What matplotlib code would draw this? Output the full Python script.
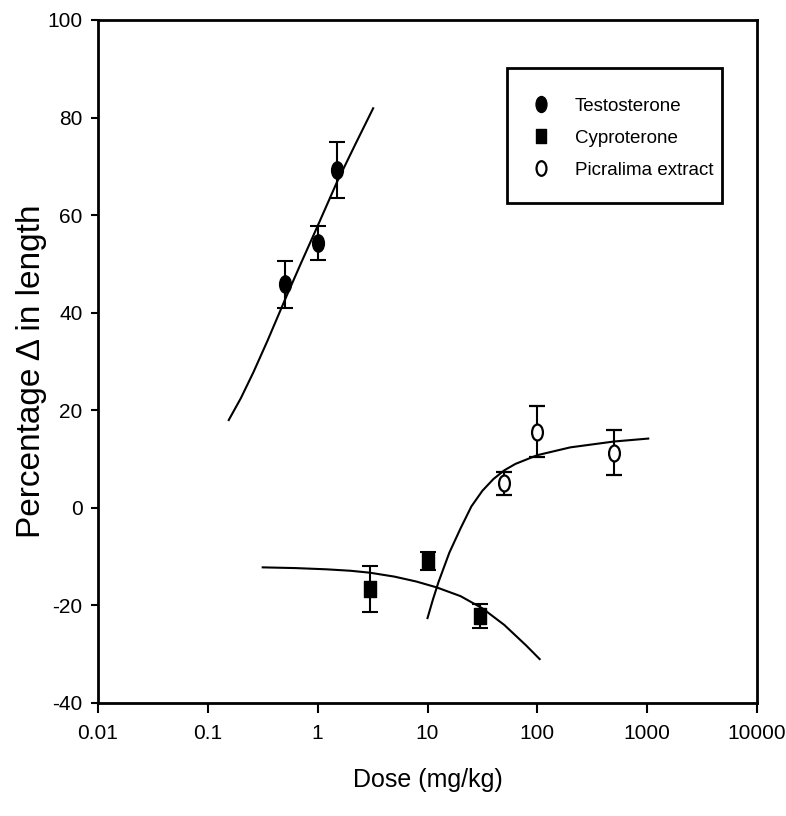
import matplotlib
matplotlib.use("Agg")
import matplotlib.pyplot as plt
from matplotlib.lines import Line2D
from matplotlib.patches import Rectangle
from matplotlib.path import Path
from matplotlib.transforms import Affine2D

plt.rcParams['font.family'] = ['Liberation Sans Narrow', 'Liberation Sans', 'DejaVu Sans']
plt.rcParams['axes.unicode_minus'] = False

# measured responses (mean +/- SEM)
testo_dose = [0.5, 1, 1.5]
testo_mean = [45.8, 54.3, 69.2]
testo_err = [4.8, 3.4, 5.7]

cypro_dose = [3, 10, 30]
cypro_mean = [-16.6, -10.9, -22.2]
cypro_err = [4.7, 1.9, 2.5]

picra_dose = [50, 100, 500]
picra_mean = [5.0, 15.6, 11.3]
picra_err = [2.4, 5.2, 4.6]

# fitted dose-response curves
testo_fit_dose = [0.155, 0.2, 0.26, 0.35, 0.5, 0.7, 1.0, 1.5, 2.2, 3.2]
testo_fit_resp = [18.0, 22.5, 27.8, 34.3, 42.5, 50.0, 57.8, 66.8, 74.5, 81.9]

cypro_fit_dose = [0.316, 0.63, 1.2, 2.0, 3.0, 5.0, 7.9, 12.1, 20, 31.6, 50, 79, 105]
cypro_fit_resp = [-12.2, -12.35, -12.6, -12.9, -13.3, -14.1, -15.1, -16.3, -18.1, -20.6, -24.0, -28.2, -31.0]

picra_fit_dose = [10, 11.2, 12.6, 15.8, 20, 25.1, 31.6, 39.8, 50.1, 63.1, 100, 200, 500, 1023]
picra_fit_resp = [-22.6, -18.8, -15.2, -9.2, -4.2, 0.3, 3.5, 5.9, 7.7, 9.0, 10.8, 12.4, 13.6, 14.2]

xticks = [0.01, 0.1, 1, 10, 100, 1000, 10000]
xtick_labels = ['0.01', '0.1', '1', '10', '100', '1000', '10000']
yticks = [-40, -20, 0, 20, 40, 60, 80, 100]
labels = ['Testosterone', 'Cyproterone', 'Picralima extract']

# slightly narrow markers
ell = Path.unit_circle().transformed(Affine2D().scale(0.68, 1.0))
box = Path.unit_rectangle().transformed(Affine2D().translate(-0.5, -0.5).scale(0.7, 1.0))

fig = plt.figure(figsize=(7.86, 8.16), dpi=100)
ax = fig.add_axes([0.1247, 0.1385, 0.8384, 0.837])

eb = dict(ecolor='black', elinewidth=1.5, capsize=5.5, capthick=1.5, linestyle='none')

ax.plot(testo_fit_dose, testo_fit_resp, color='black', lw=1.5, zorder=2)
ax.plot(cypro_fit_dose, cypro_fit_resp, color='black', lw=1.5, zorder=2)
ax.plot(picra_fit_dose, picra_fit_resp, color='black', lw=1.5, zorder=2)

ax.errorbar(testo_dose, testo_mean, yerr=testo_err, marker=ell, ms=12.5,
            mfc='black', mec='black', zorder=3, **eb)
ax.errorbar(cypro_dose, cypro_mean, yerr=cypro_err, marker=box, ms=11.5,
            mfc='black', mec='black', zorder=3, **eb)
ax.errorbar(picra_dose, picra_mean, yerr=picra_err, marker=ell, ms=11.5,
            mfc='white', mec='black', mew=1.6, zorder=3, **eb)

ax.set_xscale('log')
ax.set_xlim(0.01, 10000)
ax.set_ylim(-40, 100)
ax.set_xticks(xticks)
ax.set_xticklabels(xtick_labels)
ax.xaxis.set_minor_locator(matplotlib.ticker.NullLocator())
ax.set_yticks(yticks)

for s in ax.spines.values():
    s.set_linewidth(2)
ax.tick_params(axis='x', direction='out', length=7, width=1.5, pad=8, labelsize=15)
ax.tick_params(axis='y', direction='out', length=5, width=1.5, pad=6, labelsize=15)

ax.set_xlabel('Dose (mg/kg)', fontsize=18, labelpad=18)
ax.set_ylabel('Percentage \u0394 in length', fontsize=24)
ax.yaxis.set_label_coords(-0.078, 0.486)

# legend: markers only, inside a plain box
handles = [
    Line2D([], [], ls='none', marker=ell, ms=11.5, mfc='black', mec='black'),
    Line2D([], [], ls='none', marker=box, ms=10.5, mfc='black', mec='black'),
    Line2D([], [], ls='none', marker=ell, ms=10.5, mfc='white', mec='black', mew=1.6),
]
ax.legend(handles, labels, loc='upper left', bbox_to_anchor=(0.661, 0.8866),
          borderaxespad=0, borderpad=0, fontsize=13.5, frameon=False,
          handlelength=0.8, handletextpad=1.4, labelspacing=0.8)
ax.add_patch(Rectangle((0.6206, 0.732), 0.3264, 0.1977, transform=ax.transAxes,
                       fill=False, edgecolor='black', lw=2, zorder=4))

fig.savefig('out.png', dpi=100)
